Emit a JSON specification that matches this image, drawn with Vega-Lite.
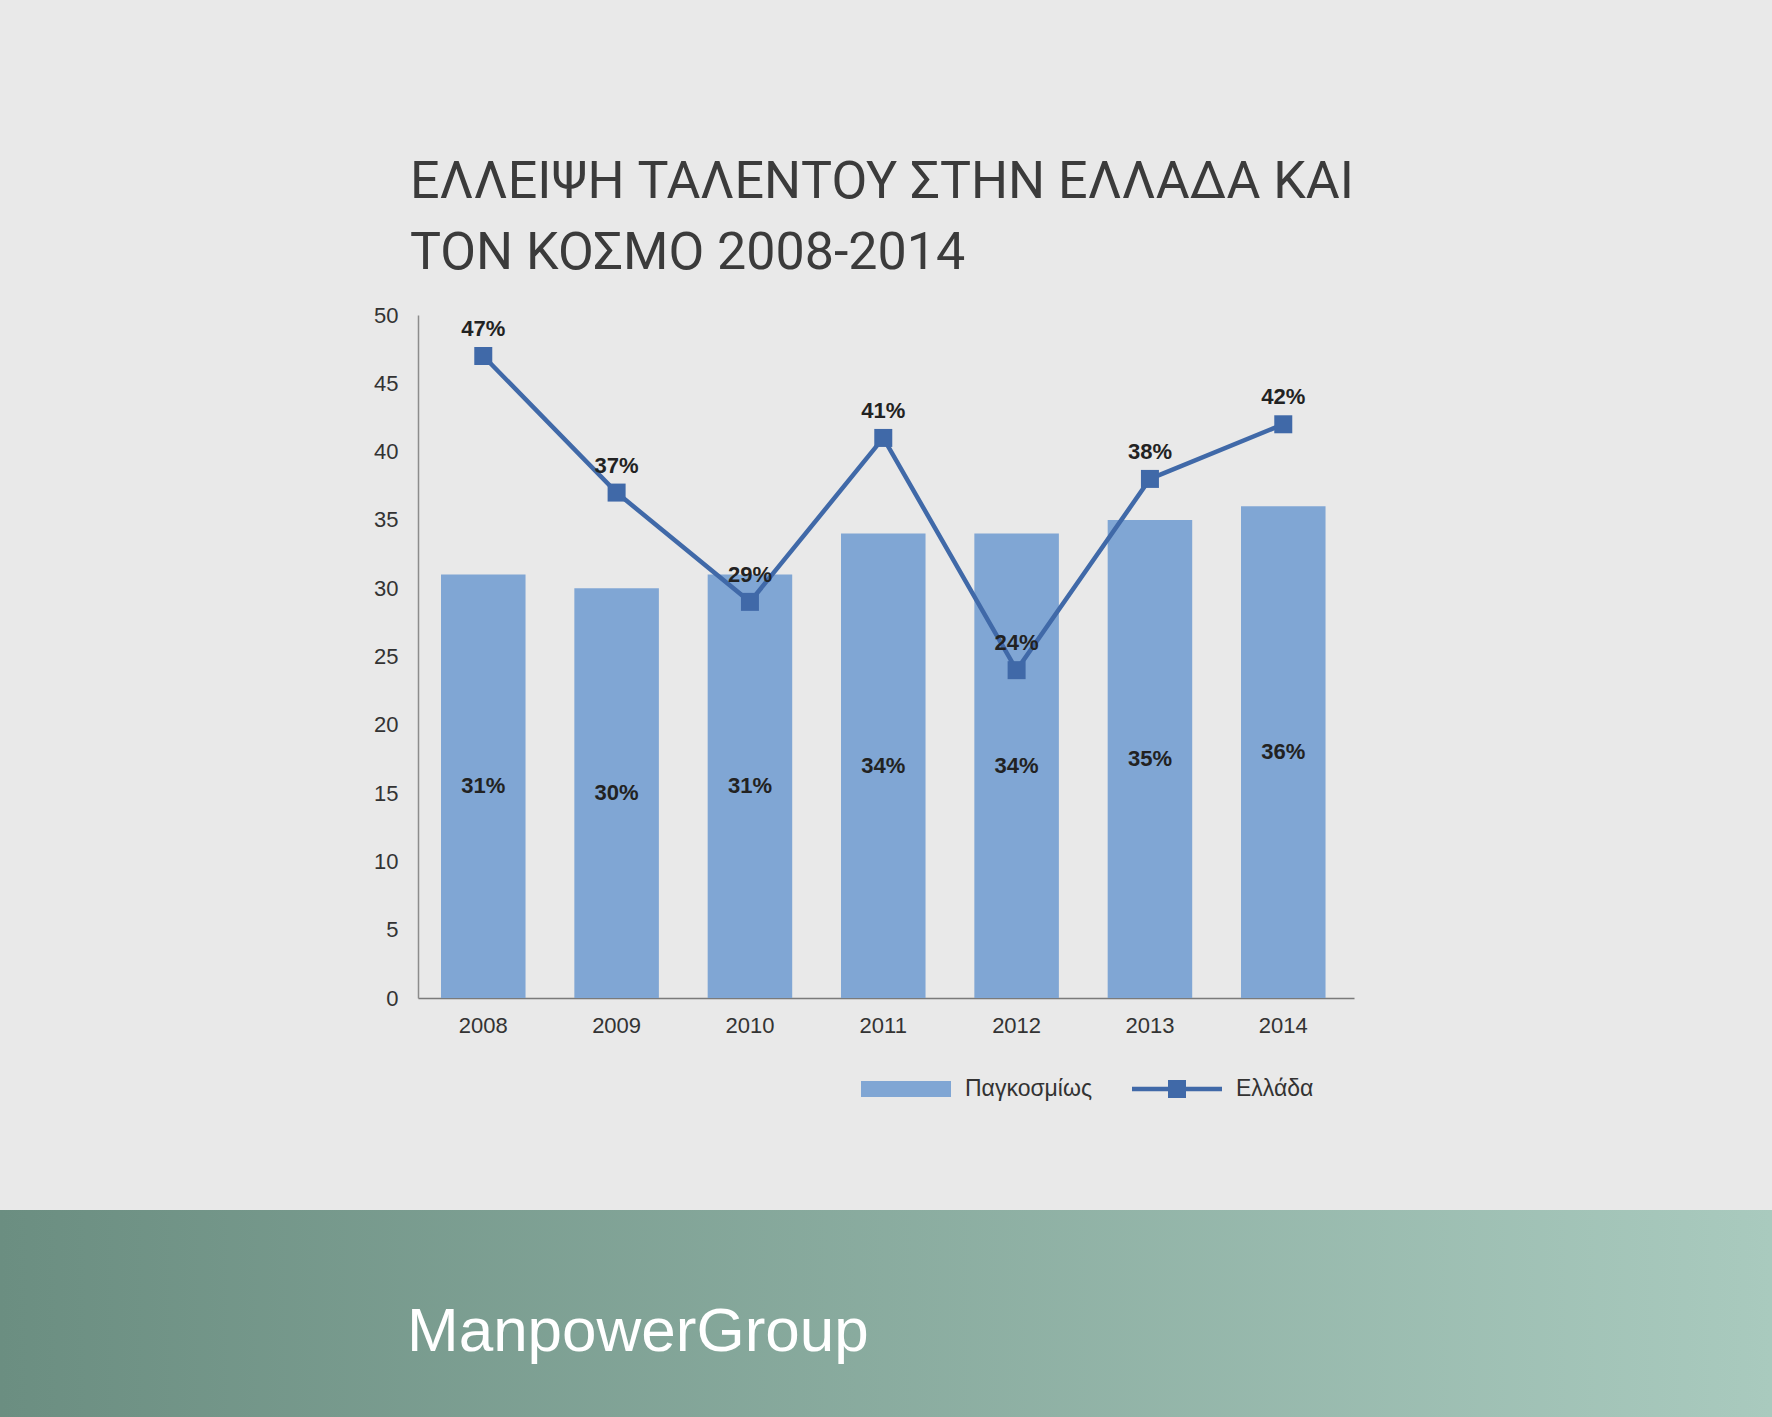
{
  "$schema": "https://vega.github.io/schema/vega-lite/v6.json",
  "background": "#e9e9e9",
  "padding": {"left": 0, "right": 0, "top": 156, "bottom": 0},
  "autosize": {"type": "pad"},
  "config": {"view": {"stroke": null}, "font": "Liberation Sans"},
  "datasets": {
    "talent": [
      {"year": "2008", "series": "Παγκοσμίως", "value": 31, "lbl": "31%"},
      {"year": "2009", "series": "Παγκοσμίως", "value": 30, "lbl": "30%"},
      {"year": "2010", "series": "Παγκοσμίως", "value": 31, "lbl": "31%"},
      {"year": "2011", "series": "Παγκοσμίως", "value": 34, "lbl": "34%"},
      {"year": "2012", "series": "Παγκοσμίως", "value": 34, "lbl": "34%"},
      {"year": "2013", "series": "Παγκοσμίως", "value": 35, "lbl": "35%"},
      {"year": "2014", "series": "Παγκοσμίως", "value": 36, "lbl": "36%"},
      {"year": "2008", "series": "Ελλάδα", "value": 47, "lbl": "47%"},
      {"year": "2009", "series": "Ελλάδα", "value": 37, "lbl": "37%"},
      {"year": "2010", "series": "Ελλάδα", "value": 29, "lbl": "29%"},
      {"year": "2011", "series": "Ελλάδα", "value": 41, "lbl": "41%"},
      {"year": "2012", "series": "Ελλάδα", "value": 24, "lbl": "24%"},
      {"year": "2013", "series": "Ελλάδα", "value": 38, "lbl": "38%"},
      {"year": "2014", "series": "Ελλάδα", "value": 42, "lbl": "42%"}
    ],
    "brand": [{"name": "ManpowerGroup"}]
  },
  "vconcat": [
    {
      "width": 936,
      "height": 683,
      "data": {"name": "talent"},
      "title": {
        "text": ["ΕΛΛΕΙΨΗ ΤΑΛΕΝΤΟΥ ΣΤΗΝ ΕΛΛΑΔΑ ΚΑΙ", "ΤΟΝ ΚΟΣΜΟ 2008-2014"],
        "anchor": "start",
        "frame": "group",
        "dx": -8,
        "offset": 24,
        "font": "Roboto",
        "fontSize": 52,
        "fontWeight": "normal",
        "color": "#3b3b3b",
        "lineHeight": 71
      },
      "resolve": {"scale": {"y": "independent"}},
      "layer": [
        {
          "transform": [{"filter": "datum.series === 'Παγκοσμίως'"}],
          "mark": {"type": "bar"},
          "encoding": {
            "x": {
              "field": "year", "type": "ordinal",
              "scale": {"type": "band", "paddingInner": 0.366, "paddingOuter": 0.193, "align": 0.447},
              "axis": {"title": null, "labelAngle": 0, "domainColor": "#7a7a7a", "domainWidth": 1.5, "ticks": false, "labelFontSize": 22, "labelPadding": 17, "labelColor": "#333333", "labelFont": "Liberation Sans"}
            },
            "y": {
              "field": "value", "type": "quantitative",
              "scale": {"domain": [0, 50], "nice": false},
              "axis": {"title": null, "values": [0, 5, 10, 15, 20, 25, 30, 35, 40, 45, 50], "grid": false, "ticks": false, "domainColor": "#8c8c8c", "domainWidth": 1.5, "labelFontSize": 22, "labelPadding": 20, "labelColor": "#333333", "labelFont": "Liberation Sans"}
            },
            "color": {
              "field": "series", "type": "nominal",
              "scale": {"domain": ["Παγκοσμίως", "Ελλάδα"], "range": ["#80a6d4", "#4069a8"]},
              "legend": {
                "title": null,
                "orient": "none",
                "legendX": 861,
                "legendY": 729,
                "direction": "horizontal",
                "padding": 0,
                "labelFontSize": 23,
                "labelFont": "Liberation Sans",
                "labelColor": "#333333",
                "labelOffset": 14,
                "columnPadding": 39,
                "symbolSize": 8100,
                "symbolStrokeWidth": 0,
                "symbolOpacity": 1,
                "encode": {
                  "symbols": {
                    "update": {
                      "shape": {"signal": "datum.value === 'Ελλάδα' ? 'M-1,-0.05H-0.2V-0.2H0.2V-0.05H1V0.05H0.2V0.2H-0.2V0.05H-1Z' : 'M-1,-0.18H1V0.18H-1Z'"},
                      "fill": {"signal": "datum.value === 'Ελλάδα' ? '#4069a8' : '#80a6d4'"},
                      "fillOpacity": {"value": 1},
                      "stroke": {"value": "transparent"},
                      "size": {"value": 8100}
                    }
                  }
                }
              }
            }
          }
        },
        {
          "transform": [{"filter": "datum.series === 'Παγκοσμίως'"}],
          "mark": {"type": "text", "fontSize": 22, "fontWeight": "bold", "color": "#222222", "baseline": "middle", "font": "Liberation Sans"},
          "encoding": {
            "x": {"field": "year", "type": "ordinal"},
            "y": {"field": "value", "type": "quantitative", "scale": {"domain": [0, 100], "nice": false}, "axis": null},
            "text": {"field": "lbl"}
          }
        },
        {
          "transform": [{"filter": "datum.series === 'Ελλάδα'"}],
          "mark": {"type": "line", "strokeWidth": 4.5},
          "encoding": {
            "x": {"field": "year", "type": "ordinal"},
            "y": {"field": "value", "type": "quantitative", "scale": {"domain": [0, 50], "nice": false}, "axis": null},
            "color": {"field": "series", "type": "nominal"}
          }
        },
        {
          "transform": [{"filter": "datum.series === 'Ελλάδα'"}],
          "mark": {"type": "point", "shape": "square", "filled": true, "size": 324, "opacity": 1},
          "encoding": {
            "x": {"field": "year", "type": "ordinal"},
            "y": {"field": "value", "type": "quantitative", "scale": {"domain": [0, 50], "nice": false}, "axis": null},
            "color": {"field": "series", "type": "nominal"}
          }
        },
        {
          "transform": [{"filter": "datum.series === 'Ελλάδα'"}],
          "mark": {"type": "text", "fontSize": 22, "fontWeight": "bold", "color": "#222222", "baseline": "middle", "dy": -27, "font": "Liberation Sans"},
          "encoding": {
            "x": {"field": "year", "type": "ordinal"},
            "y": {"field": "value", "type": "quantitative", "scale": {"domain": [0, 50], "nice": false}, "axis": null},
            "text": {"field": "lbl"}
          }
        }
      ]
    },
    {
      "width": 1772,
      "height": 208,
      "data": {"name": "brand"},
      "mark": {
        "type": "rect",
        "color": {"gradient": "linear", "x1": 0, "x2": 1, "y1": 0, "y2": 0, "stops": [{"offset": 0, "color": "#6b8e81"}, {"offset": 1, "color": "#a9cabe"}]}
      },
      "encoding": {},
      "title": {
        "text": "ManpowerGroup",
        "anchor": "start",
        "frame": "group",
        "dx": 407,
        "offset": -154,
        "fontSize": 62,
        "fontWeight": "normal",
        "color": "#ffffff",
        "font": "Liberation Sans"
      }
    }
  ],
  "spacing": 212,
  "bounds": "flush",
  "center": true
}
